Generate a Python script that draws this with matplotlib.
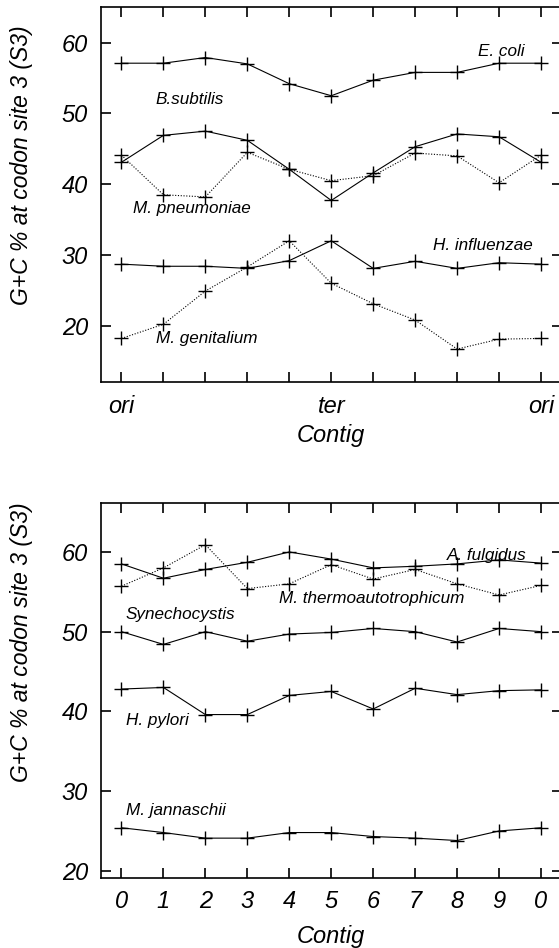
import matplotlib
matplotlib.use("Agg")
import matplotlib.pyplot as plt

plt.rcParams['font.family'] = ['Liberation Sans', 'DejaVu Sans']

# ---- data ----
contig = list(range(11))
top_xticklabels = ['ori', '', '', '', '', 'ter', '', '', '', '', 'ori']
bottom_xticklabels = ['0', '1', '2', '3', '4', '5', '6', '7', '8', '9', '0']
yticks_vals = [20, 30, 40, 50, 60]

e_coli = [57.1, 57.1, 57.9, 57.0, 54.2, 52.5, 54.7, 55.8, 55.8, 57.1, 57.1]
b_subtilis = [43.1, 46.9, 47.5, 46.2, 42.1, 37.7, 41.6, 45.3, 47.1, 46.7, 43.1]
m_pneumoniae = [44.1, 38.5, 38.2, 44.5, 42.1, 40.5, 41.2, 44.4, 44.0, 40.2, 44.1]
h_influenzae = [28.7, 28.4, 28.4, 28.1, 29.2, 32.0, 28.1, 29.1, 28.1, 28.9, 28.7]
m_genitalium = [18.2, 20.2, 24.9, 28.3, 32.0, 26.0, 23.1, 20.8, 16.7, 18.1, 18.2]

a_fulgidus = [58.5, 56.7, 57.8, 58.7, 60.0, 59.1, 58.0, 58.2, 58.5, 59.0, 58.6]
m_thermo = [55.7, 58.0, 60.9, 55.4, 56.0, 58.4, 56.6, 57.8, 56.0, 54.6, 55.8]
synechocystis = [50.0, 48.4, 50.0, 48.8, 49.7, 49.9, 50.4, 50.0, 48.7, 50.4, 50.0]
h_pylori = [42.8, 43.0, 39.6, 39.6, 42.0, 42.5, 40.3, 42.9, 42.1, 42.6, 42.7]
m_jannaschii = [25.4, 24.8, 24.1, 24.1, 24.8, 24.8, 24.3, 24.1, 23.8, 25.0, 25.4]

W, H = 559, 948
fig = plt.figure(figsize=(W / 100, H / 100), dpi=100)

def make_ax(top_px, bottom_px):
    left_px, right_px = 100.5, 562.0
    return fig.add_axes([left_px / W, 1 - bottom_px / H,
                         (right_px - left_px) / W, (bottom_px - top_px) / H])

ax1 = make_ax(7.3, 382.3)
ax2 = make_ax(503.3, 878.0)

solid = dict(color='black', lw=0.8, marker='+', ms=10, mew=1.0)
dotted = dict(color='black', lw=0.8, ls=(0, (1, 1.5)), marker='+', ms=10, mew=1.0)

ax1.plot(contig, e_coli, **solid)
ax1.plot(contig, b_subtilis, **solid)
ax1.plot(contig, m_pneumoniae, **dotted)
ax1.plot(contig, h_influenzae, **solid)
ax1.plot(contig, m_genitalium, **dotted)

ax2.plot(contig, a_fulgidus, **solid)
ax2.plot(contig, m_thermo, **dotted)
ax2.plot(contig, synechocystis, **solid)
ax2.plot(contig, h_pylori, **solid)
ax2.plot(contig, m_jannaschii, **solid)

lab = dict(fontsize=12.3, style='italic', va='center', ha='left')
ax1.text(8.5, 58.7, 'E. coli', **lab)
ax1.text(0.81, 51.9, 'B.subtilis', **lab)
ax1.text(0.27, 36.5, 'M. pneumoniae', **lab)
ax1.text(7.43, 31.4, 'H. influenzae', **lab)
ax1.text(0.83, 18.2, 'M. genitalium', **lab)

ax2.text(7.76, 59.6, 'A. fulgidus', **lab)
ax2.text(3.76, 54.2, 'M. thermoautotrophicum', **lab)
ax2.text(0.1, 52.2, 'Synechocystis', **lab)
ax2.text(0.1, 38.9, 'H. pylori', **lab)
ax2.text(0.1, 27.6, 'M. jannaschii', **lab)

for ax, ylim, xl in ((ax1, (12.0, 65.0), top_xticklabels),
                     (ax2, (19.1, 66.1), bottom_xticklabels)):
    ax.set_xlim(-0.5, 10.5)
    ax.set_ylim(*ylim)
    ax.set_xticks(contig)
    ax.set_xticklabels(xl, fontsize=17, style='italic')
    ax.set_yticks(yticks_vals)
    ax.set_yticklabels([str(v) for v in yticks_vals], fontsize=17, style='italic')
    ax.tick_params(axis='both', direction='in', length=7, width=1.2,
                   top=True, right=True, bottom=True, left=True)
    ax.tick_params(axis='x', pad=9)
    ax.tick_params(axis='y', pad=9)
    for s in ax.spines.values():
        s.set_linewidth(1.2)

# axis labels
fig.text(22 / W, 1 - 165 / H, 'G+C % at codon site 3 (S3)', rotation=90,
         ha='center', va='center', fontsize=16.5, style='italic')
fig.text(22 / W, 1 - 642 / H, 'G+C % at codon site 3 (S3)', rotation=90,
         ha='center', va='center', fontsize=16.5, style='italic')
fig.text(331 / W, 1 - 436 / H, 'Contig', ha='center', va='center',
         fontsize=17, style='italic')
fig.text(331 / W, 1 - 936 / H, 'Contig', ha='center', va='center',
         fontsize=17, style='italic')

fig.savefig('out.png', dpi=100)
